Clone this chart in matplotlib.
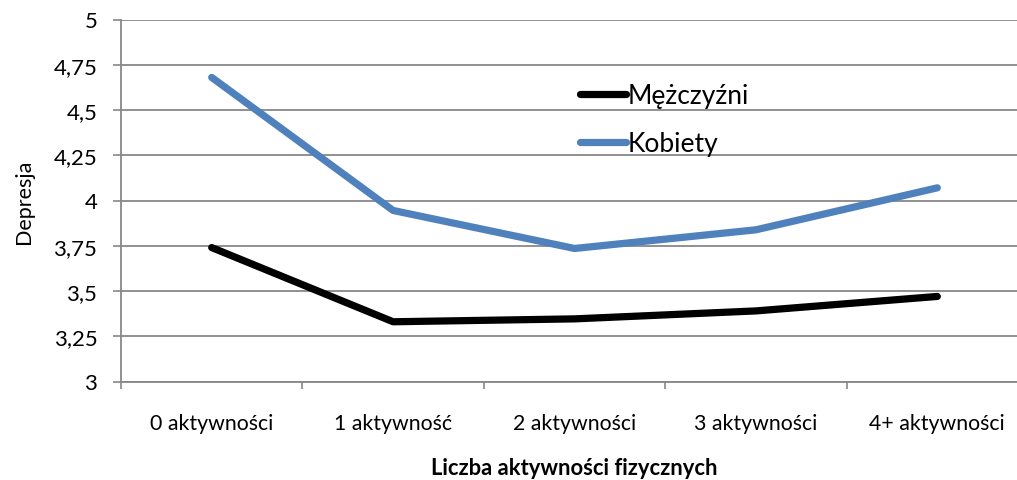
import matplotlib
matplotlib.use("Agg")
import matplotlib.pyplot as plt
from matplotlib.ticker import FixedLocator

plt.rcParams['font.family'] = ['Lato', 'DejaVu Sans']

categories = ["0 aktywności", "1 aktywność", "2 aktywności", "3 aktywności", "4+ aktywności"]
men = [3.74, 3.33, 3.346, 3.39, 3.47]
women = [4.68, 3.945, 3.735, 3.838, 4.07]
yticks = [3, 3.25, 3.5, 3.75, 4, 4.25, 4.5, 4.75, 5]
ytick_labels = ["3", "3,25", "3,5", "3,75", "4", "4,25", "4,5", "4,75", "5"]

grid_col = "#888888"

fig = plt.figure(figsize=(10.17, 4.81), dpi=100)
# right edge of the plot area runs past the picture, as in the reference
ax = fig.add_axes([121 / 1017, 98.5 / 481, 907 / 1017, 362 / 481])

x = list(range(len(categories)))
ax.plot(x, men, color="black", lw=5.2, solid_capstyle="round", label="Mężczyźni")
ax.plot(x, women, color="#4F81BD", lw=5.2, solid_capstyle="round", label="Kobiety")

ax.set_xlim(-0.5, 4.5)
ax.set_ylim(3, 5)
ax.set_yticks(yticks)
ax.set_yticklabels(ytick_labels, fontsize=16)
ax.set_xticks(x)
ax.set_xticklabels(categories, fontsize=15.3)
ax.xaxis.set_minor_locator(FixedLocator([-0.5, 0.5, 1.5, 2.5, 3.5, 4.5]))
ax.tick_params(axis="x", which="major", length=0, pad=23)
ax.tick_params(axis="x", which="minor", length=5, width=1.2, color=grid_col, direction="out")
ax.tick_params(axis="y", length=6, width=1.2, color=grid_col, direction="out", pad=11)

ax.grid(axis="y", color=grid_col, lw=1.3)
ax.set_axisbelow(True)
for side in ["top", "right"]:
    ax.spines[side].set_visible(False)
for side in ["left", "bottom"]:
    ax.spines[side].set_color(grid_col)
    ax.spines[side].set_linewidth(1.3)

ax.set_ylabel("Depresja", fontsize=15.5, labelpad=14)
ax.set_xlabel("Liczba aktywności fizycznych", fontsize=15.8, fontweight="bold", labelpad=17)

leg = ax.legend(loc="upper left", bbox_to_anchor=(0.48, 0.89), frameon=False,
                fontsize=19, handlelength=1.75, handletextpad=0.05, labelspacing=0.87)

fig.savefig("out.png", dpi=100)
